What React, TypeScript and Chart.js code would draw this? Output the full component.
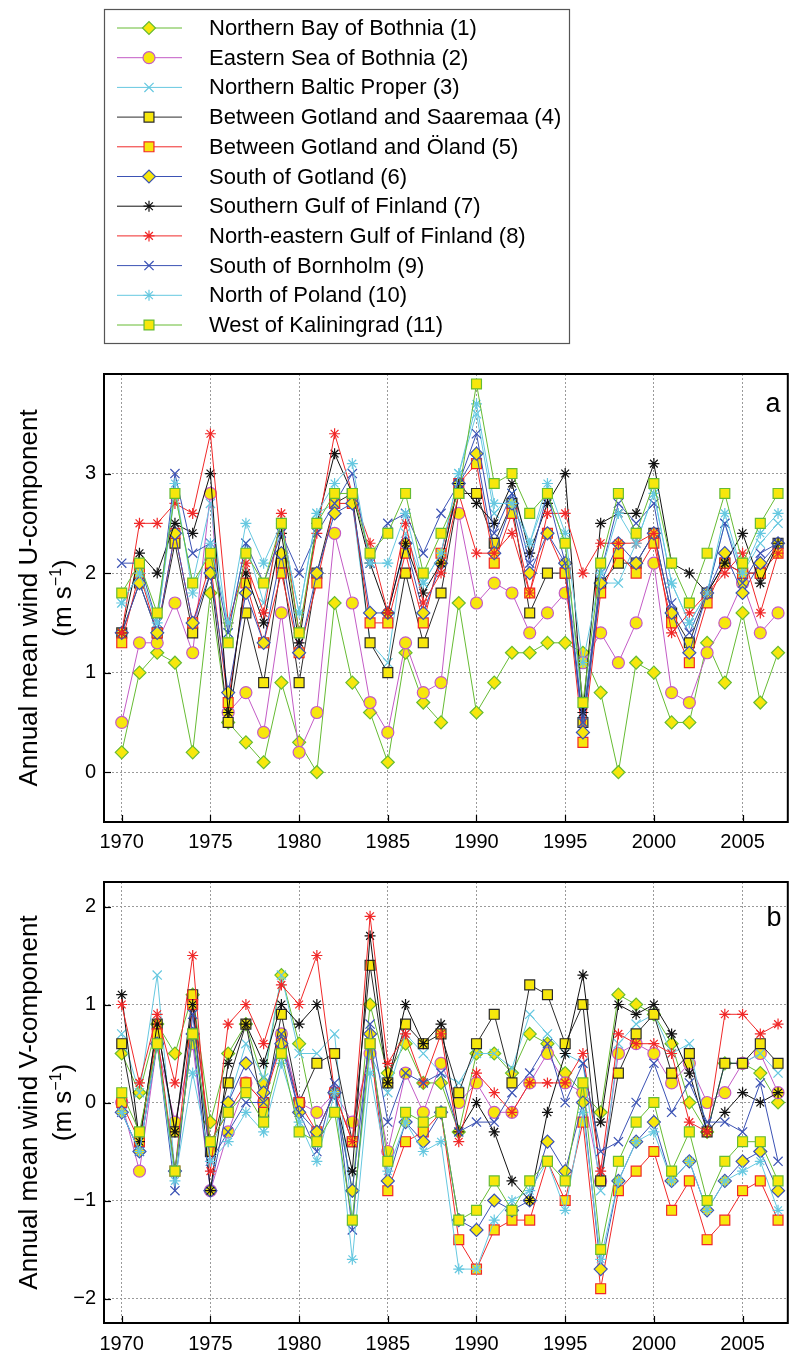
import React, { useEffect, useRef } from 'react';
import { Chart, registerables } from 'chart.js';
import { drawPoint } from 'chart.js/helpers';

Chart.register(...registerables);

const FONT = '"Liberation Sans", Arial, Helvetica, sans-serif';

const years = [1970, 1971, 1972, 1973, 1974, 1975, 1976, 1977, 1978, 1979, 1980, 1981, 1982, 1983, 1984, 1985, 1986, 1987, 1988, 1989, 1990, 1991, 1992, 1993, 1994, 1995, 1996, 1997, 1998, 1999, 2000, 2001, 2002, 2003, 2004, 2005, 2006, 2007];
const xTicks = [1970, 1975, 1980, 1985, 1990, 1995, 2000, 2005];
const uTicks = [0, 1, 2, 3];
const vTicks = [-2, -1, 0, 1, 2];

const names = [
  'Northern Bay of Bothnia (1)',
  'Eastern Sea of Bothnia (2)',
  'Northern Baltic Proper (3)',
  'Between Gotland and Saaremaa (4)',
  'Between Gotland and Öland (5)',
  'South of Gotland (6)',
  'Southern Gulf of Finland (7)',
  'North-eastern Gulf of Finland (8)',
  'South of Bornholm (9)',
  'North of Poland (10)',
  'West of Kaliningrad (11)',
];

// Panel a: annual mean wind U-component (m/s)
const u1 = [0.2, 1.0, 1.2, 1.1, 0.2, 1.8, 0.5, 0.3, 0.1, 0.9, 0.3, 0.0, 1.7, 0.9, 0.6, 0.1, 1.2, 0.7, 0.5, 1.7, 0.6, 0.9, 1.2, 1.2, 1.3, 1.3, 1.2, 0.8, 0.0, 1.1, 1.0, 0.5, 0.5, 1.3, 0.9, 1.6, 0.7, 1.2];
const u2 = [0.5, 1.3, 1.3, 1.7, 1.2, 2.8, 0.6, 0.8, 0.4, 1.6, 0.2, 0.6, 2.4, 1.7, 0.7, 0.4, 1.3, 0.8, 0.9, 2.6, 1.7, 1.9, 1.8, 1.4, 1.6, 1.8, 1.1, 1.4, 1.1, 1.5, 2.1, 0.8, 0.7, 1.2, 1.5, 1.9, 1.4, 1.6];
const u3 = [1.7, 2.0, 1.5, 2.8, 1.9, 2.7, 1.4, 2.3, 1.7, 2.5, 1.6, 2.6, 2.7, 2.7, 1.3, 1.1, 2.4, 1.9, 2.2, 3.0, 3.6, 2.6, 2.8, 2.3, 2.8, 2.3, 0.6, 1.9, 1.9, 2.3, 2.8, 1.9, 1.5, 1.8, 2.5, 2.0, 2.3, 2.5];
const u4 = [1.4, 1.9, 1.4, 2.3, 1.4, 2.0, 0.5, 1.6, 0.9, 2.1, 0.9, 2.0, 2.7, 2.8, 1.3, 1.0, 2.0, 1.3, 1.8, 2.8, 2.8, 2.3, 2.7, 1.6, 2.0, 2.0, 0.5, 1.9, 2.1, 2.1, 2.4, 1.6, 1.3, 1.8, 2.1, 2.0, 2.0, 2.3];
const u5 = [1.3, 2.0, 1.4, 2.4, 1.5, 2.1, 0.7, 1.9, 1.3, 2.0, 1.2, 1.9, 2.7, 2.7, 1.5, 1.5, 2.2, 1.5, 2.2, 2.9, 3.1, 2.1, 2.6, 1.8, 2.4, 2.0, 0.3, 1.8, 2.2, 2.0, 2.3, 1.5, 1.1, 1.7, 2.1, 2.0, 2.0, 2.2];
const u6 = [1.4, 1.9, 1.4, 2.4, 1.5, 2.0, 0.8, 1.8, 1.3, 2.2, 1.2, 2.0, 2.6, 2.7, 1.6, 1.6, 2.3, 1.6, 2.1, 2.9, 3.2, 2.2, 2.7, 2.0, 2.4, 2.1, 0.4, 1.9, 2.3, 2.1, 2.4, 1.6, 1.2, 1.8, 2.2, 1.8, 2.1, 2.3];
const u7 = [1.4, 2.2, 2.0, 2.5, 2.4, 3.0, 0.6, 2.0, 1.5, 2.4, 1.3, 2.5, 3.2, 2.8, 2.1, 1.6, 2.3, 1.8, 2.1, 2.9, 2.7, 2.5, 2.9, 2.2, 2.7, 3.0, 0.6, 2.5, 2.6, 2.6, 3.1, 2.1, 2.0, 1.8, 2.1, 2.4, 1.9, 2.3];
const u8 = [1.4, 2.5, 2.5, 2.7, 2.6, 3.4, 1.5, 2.1, 1.6, 2.6, 1.4, 2.4, 3.4, 2.8, 2.3, 1.6, 2.5, 1.7, 2.0, 2.8, 2.2, 2.2, 2.4, 1.8, 2.6, 2.6, 2.0, 2.3, 2.3, 2.3, 2.4, 1.4, 1.6, 1.8, 2.0, 2.2, 1.6, 2.2];
const u9 = [2.1, 2.1, 1.5, 3.0, 2.2, 2.3, 1.4, 2.3, 1.9, 2.4, 2.0, 2.4, 2.7, 3.0, 2.1, 2.5, 2.6, 2.2, 2.6, 2.9, 3.4, 2.4, 2.8, 2.1, 2.8, 2.1, 0.5, 2.0, 2.7, 2.5, 2.7, 1.7, 1.4, 1.8, 2.5, 1.9, 2.2, 2.3];
const u10 = [1.7, 2.0, 1.5, 2.9, 1.8, 2.3, 1.5, 2.5, 2.1, 2.5, 1.6, 2.6, 2.9, 3.1, 2.1, 2.1, 2.6, 1.9, 2.2, 3.0, 3.7, 2.7, 2.7, 2.3, 2.9, 2.4, 1.1, 2.0, 2.6, 2.3, 2.8, 1.9, 1.5, 1.8, 2.6, 2.0, 2.4, 2.6];
const u11 = [1.8, 2.1, 1.6, 2.8, 1.9, 2.2, 1.3, 2.2, 1.9, 2.5, 1.4, 2.5, 2.8, 2.8, 2.2, 2.4, 2.8, 2.0, 2.4, 2.8, 3.9, 2.9, 3.0, 2.6, 2.8, 2.3, 0.7, 2.1, 2.8, 2.4, 2.9, 2.1, 1.7, 2.2, 2.8, 2.1, 2.5, 2.8];

// Panel b: annual mean wind V-component (m/s)
const v1 = [0.5, 0.1, 0.8, 0.5, 1.1, -0.2, 0.5, 0.8, 0.2, 1.3, 0.6, -0.3, 0.1, -0.9, 1.0, 0.3, 0.6, 0.2, 0.2, -0.3, 0.5, 0.5, 0.3, 0.7, 0.6, 0.3, 0.1, -0.1, 1.1, 1.0, 0.9, 0.6, 0.0, -0.3, 0.4, 0.4, 0.3, 0.0];
const v2 = [0.0, -0.7, 0.6, -0.2, 0.6, -0.9, -0.3, 0.2, 0.0, 0.7, 0.0, -0.1, 0.1, -0.2, 0.5, -0.5, 0.3, -0.1, 0.4, 0.0, 0.2, -0.1, -0.1, 0.2, 0.5, 0.2, 0.1, -0.8, 0.5, 0.6, 0.5, 0.2, 0.4, 0.0, 0.1, 0.4, 0.5, 0.1];
const v3 = [0.7, 0.1, 1.3, -0.7, 0.7, -0.5, 0.0, 0.6, 0.25, 1.3, 0.5, 0.5, 0.7, -1.2, 0.5, 0.1, 0.7, 0.5, 0.3, 0.2, 0.5, 0.5, 0.35, 0.9, 0.7, 0.5, 0.4, -0.9, 0.6, 0.8, 0.9, 0.5, 0.6, -0.3, 0.4, 0.4, 0.5, 0.3];
const v4 = [0.6, -0.4, 0.8, -0.3, 1.1, -0.5, 0.2, 0.8, -0.1, 0.9, 0.0, 0.4, 0.5, -0.4, 1.4, 0.2, 0.8, 0.6, 0.7, 0.1, 0.6, 0.9, 0.2, 1.2, 1.1, 0.6, 1.0, -0.8, 0.3, 0.7, 0.9, 0.3, 0.5, -0.3, 0.4, 0.4, 0.6, 0.4];
const v5 = [0.0, -0.4, 0.7, -0.7, 1.0, -0.4, -0.1, 0.2, 0.0, 0.6, 0.0, -0.3, 0.1, -0.4, 0.6, -0.9, -0.4, -0.3, -0.1, -1.4, -1.7, -1.3, -1.2, -1.2, -0.6, -1.0, -0.2, -1.9, -0.9, -0.7, -0.5, -1.1, -0.8, -1.4, -1.2, -0.9, -0.8, -1.2];
const v6 = [-0.1, -0.5, 0.6, -0.7, 0.7, -0.9, 0.0, 0.4, 0.1, 0.6, -0.1, -0.3, 0.1, -0.9, 0.7, -0.8, -0.2, -0.4, -0.1, -1.2, -1.3, -1.0, -1.1, -1.0, -0.4, -0.7, 0.0, -1.7, -0.8, -0.4, -0.2, -0.8, -0.6, -1.1, -0.8, -0.6, -0.5, -0.9];
const v7 = [1.1, -0.4, 0.8, -0.3, 1.0, -0.9, 0.4, 0.8, 0.4, 1.0, 0.8, 1.0, 0.1, -0.7, 1.7, 0.2, 1.0, 0.6, 0.8, -0.3, 0.0, -0.3, -0.8, -1.0, -0.1, 0.5, 1.3, -0.2, 1.0, 0.9, 1.0, 0.7, 0.3, -0.3, -0.1, 0.1, 0.0, 0.1];
const v8 = [1.0, 0.2, 0.9, 0.2, 1.5, -0.7, 0.8, 1.0, 0.6, 1.2, 1.0, 1.5, 0.1, -0.4, 1.9, 0.4, 0.7, 0.2, 0.7, -0.4, 0.3, 0.1, -0.1, 0.2, 0.2, 0.2, 0.5, -0.7, 0.7, 0.6, 0.6, 0.5, -0.2, -0.3, 0.9, 0.9, 0.7, 0.8];
const v9 = [-0.1, -0.5, 0.6, -0.9, 0.9, -0.6, -0.3, 0.0, 0.0, 0.7, -0.1, -0.5, 0.2, -1.3, 0.8, -0.2, 0.3, 0.2, 0.3, -0.3, -0.2, -0.2, 0.1, 0.3, 0.6, 0.0, 0.4, -0.5, -0.4, 0.0, 0.4, -0.1, 0.2, -0.2, -0.2, -0.3, 0.2, -0.6];
const v10 = [-0.1, -0.5, 0.6, -0.8, 0.3, -0.6, -0.4, -0.1, -0.3, 0.4, -0.2, -0.6, 0.1, -1.6, 0.3, -0.7, -0.2, -0.5, -0.4, -1.7, -1.7, -1.2, -1.0, -0.9, -0.6, -1.1, -0.1, -1.6, -0.8, -0.4, -0.3, -0.8, -0.6, -1.1, -0.8, -0.7, -0.6, -1.1];
const v11 = [0.1, -0.3, 0.6, -0.7, 0.7, -0.4, -0.1, 0.1, -0.2, 0.5, -0.3, -0.4, -0.1, -1.2, 0.6, -0.6, -0.1, -0.2, -0.1, -1.2, -1.1, -0.8, -1.1, -0.8, -0.6, -0.8, 0.2, -1.5, -0.6, -0.2, 0.0, -0.7, -0.3, -1.0, -0.6, -0.4, -0.4, -0.8];

const uSeries = [u1, u2, u3, u4, u5, u6, u7, u8, u9, u10, u11];
const vSeries = [v1, v2, v3, v4, v5, v6, v7, v8, v9, v10, v11];

const YELLOW = '#f7e70c';
const GREEN = '#66bb33';
const MAGENTA = '#c35bc6';
const CYAN = '#66c8e0';
const DARK = '#2a2a2a';
const RED = '#f02828';
const BLUE = '#3b52b4';
const BLACK = '#111111';

type Sty = { line: string; border: string; fill: string; shape: string; r: number };
const styles: Sty[] = [
  { line: GREEN, border: GREEN, fill: YELLOW, shape: 'rectRot', r: 6.5 },
  { line: MAGENTA, border: MAGENTA, fill: YELLOW, shape: 'circle', r: 6 },
  { line: CYAN, border: CYAN, fill: CYAN, shape: 'crossRot', r: 6.5 },
  { line: DARK, border: DARK, fill: YELLOW, shape: 'rect', r: 7 },
  { line: RED, border: RED, fill: YELLOW, shape: 'rect', r: 7 },
  { line: BLUE, border: BLUE, fill: YELLOW, shape: 'rectRot', r: 6.5 },
  { line: BLACK, border: BLACK, fill: BLACK, shape: 'star', r: 5.5 },
  { line: RED, border: RED, fill: RED, shape: 'star', r: 5.5 },
  { line: BLUE, border: BLUE, fill: BLUE, shape: 'crossRot', r: 6.5 },
  { line: CYAN, border: CYAN, fill: CYAN, shape: 'star', r: 5.5 },
  { line: GREEN, border: GREEN, fill: YELLOW, shape: 'rect', r: 7 },
];

function makeDatasets(series: number[][]) {
  return series.map((arr, i) => {
    const s = styles[i];
    return {
      label: names[i],
      data: years.map((x, k) => ({ x, y: arr[k] })),
      borderColor: s.line,
      borderWidth: 1,
      backgroundColor: s.fill,
      pointStyle: s.shape,
      pointRadius: s.r,
      pointBorderWidth: 1.2,
      pointBorderColor: s.border,
      pointBackgroundColor: s.fill,
      tension: 0,
      fill: false,
      order: 10 - i,
    };
  });
}

const fmtNum = (v: number) => (v < 0 ? '\u2212' + String(Math.abs(v)) : String(v));

function overlayPlugin(cfg: { line1: string; letter: string; letterX: number; letterY: number; legend: boolean }) {
  return {
    id: 'overlay',
    afterDraw(chart: any) {
      const { ctx, chartArea: ca, scales } = chart;
      ctx.save();
      // inward ticks
      ctx.strokeStyle = '#000';
      ctx.lineWidth = 1.2;
      for (const t of scales.y.ticks) {
        const py = Math.round(scales.y.getPixelForValue(t.value)) + 0.5;
        ctx.beginPath();
        ctx.moveTo(ca.left, py);
        ctx.lineTo(ca.left + 7, py);
        ctx.stroke();
      }
      for (const t of scales.x.ticks) {
        const px = Math.round(scales.x.getPixelForValue(t.value)) + 0.5;
        ctx.beginPath();
        ctx.moveTo(px, ca.bottom);
        ctx.lineTo(px, ca.bottom - 7);
        ctx.stroke();
      }
      // frame
      ctx.lineWidth = 2;
      ctx.strokeStyle = '#000';
      ctx.strokeRect(ca.left, ca.top, ca.right - ca.left, ca.bottom - ca.top);

      // y-axis title
      const cy = (ca.top + ca.bottom) / 2;
      ctx.fillStyle = '#000';
      ctx.font = `26px ${FONT}`;
      ctx.textBaseline = 'middle';
      ctx.textAlign = 'center';
      ctx.save();
      ctx.translate(30, cy);
      ctx.rotate(-Math.PI / 2);
      ctx.fillText(cfg.line1, 0, 0);
      ctx.restore();
      // second line with superscript
      ctx.save();
      ctx.translate(62, cy);
      ctx.rotate(-Math.PI / 2);
      ctx.textAlign = 'left';
      ctx.textBaseline = 'alphabetic';
      const p1 = '(m s';
      const sup = '\u22121';
      const p3 = ')';
      ctx.font = `26px ${FONT}`;
      const w1 = ctx.measureText(p1).width;
      const w3 = ctx.measureText(p3).width;
      ctx.font = `16px ${FONT}`;
      const w2 = ctx.measureText(sup).width;
      const total = w1 + w2 + w3;
      let x0 = -total / 2;
      const base = 9;
      ctx.font = `26px ${FONT}`;
      ctx.fillText(p1, x0, base);
      x0 += w1;
      ctx.font = `16px ${FONT}`;
      ctx.fillText(sup, x0, base - 10);
      x0 += w2;
      ctx.font = `26px ${FONT}`;
      ctx.fillText(p3, x0, base);
      ctx.restore();

      // panel letter
      ctx.font = `27px ${FONT}`;
      ctx.textAlign = 'center';
      ctx.textBaseline = 'middle';
      ctx.fillText(cfg.letter, cfg.letterX, cfg.letterY);

      // legend
      if (cfg.legend) {
        const bx = 104, by = 9, bw = 465, bh = 334;
        ctx.fillStyle = '#fff';
        ctx.fillRect(bx, by, bw, bh);
        ctx.strokeStyle = '#555';
        ctx.lineWidth = 1.2;
        ctx.strokeRect(bx + 0.5, by + 0.5, bw, bh);
        const dss = chart.data.datasets;
        dss.forEach((ds: any, i: number) => {
          const y = 28 + i * 29.7;
          ctx.strokeStyle = ds.borderColor;
          ctx.lineWidth = 1;
          ctx.beginPath();
          ctx.moveTo(117, y);
          ctx.lineTo(182, y);
          ctx.stroke();
          ctx.fillStyle = ds.pointBackgroundColor;
          ctx.strokeStyle = ds.pointBorderColor;
          ctx.lineWidth = ds.pointBorderWidth;
          drawPoint(ctx, { pointStyle: ds.pointStyle, radius: ds.pointRadius, borderWidth: ds.pointBorderWidth, rotation: 0 } as any, 149, y);
          ctx.fillStyle = '#000';
          ctx.font = `22px ${FONT}`;
          ctx.textAlign = 'left';
          ctx.textBaseline = 'middle';
          ctx.fillText(ds.label, 209, y + 1);
        });
      }
      ctx.restore();
    },
  };
}

function makeConfig(opts: {
  series: number[][];
  yMin: number;
  yMax: number;
  yTicks: number[];
  padTop: number;
  xHeight: number;
  labelPad: number;
  line1: string;
  letter: string;
  letterX: number;
  letterY: number;
  legend: boolean;
}): any {
  return {
    type: 'line',
    data: { datasets: makeDatasets(opts.series) },
    options: {
      animation: false,
      responsive: false,
      maintainAspectRatio: false,
      devicePixelRatio: 1,
      layout: { padding: { top: opts.padTop, left: 0, right: 1, bottom: 0 } },
      plugins: { legend: { display: false }, tooltip: { enabled: false }, title: { display: false } },
      scales: {
        x: {
          type: 'linear',
          min: 1969,
          max: 2007.55,
          afterBuildTicks: (s: any) => {
            s.ticks = xTicks.map((v) => ({ value: v }));
          },
          afterFit: (s: any) => {
            s.height = opts.xHeight;
          },
          ticks: {
            color: '#000',
            font: { family: FONT, size: 20 },
            padding: opts.labelPad,
            maxRotation: 0,
            autoSkip: false,
            callback: (v: number) => String(v),
          },
          grid: { color: '#9a9a9a', lineWidth: 1, drawTicks: false },
          border: { display: false, dash: [2, 2] },
        },
        y: {
          type: 'linear',
          min: opts.yMin,
          max: opts.yMax,
          afterBuildTicks: (s: any) => {
            s.ticks = opts.yTicks.map((v) => ({ value: v }));
          },
          afterFit: (s: any) => {
            s.width = 104;
          },
          ticks: {
            color: '#000',
            font: { family: FONT, size: 20 },
            padding: 8,
            callback: (v: number) => fmtNum(v),
          },
          grid: { color: '#9a9a9a', lineWidth: 1, drawTicks: false },
          border: { display: false, dash: [2, 2] },
        },
      },
    },
    plugins: [overlayPlugin({ line1: opts.line1, letter: opts.letter, letterX: opts.letterX, letterY: opts.letterY, legend: opts.legend })],
  };
}

export default function App() {
  const refA = useRef<HTMLCanvasElement>(null);
  const refB = useRef<HTMLCanvasElement>(null);

  useEffect(() => {
    const chartA = new Chart(
      refA.current as HTMLCanvasElement,
      makeConfig({
        series: uSeries,
        yMin: -0.5,
        yMax: 4.0,
        yTicks: uTicks,
        padTop: 374,
        xHeight: 40,
        labelPad: 8,
        line1: 'Annual mean wind U-component',
        letter: 'a',
        letterX: 773,
        letterY: 405,
        legend: true,
      })
    );
    const chartB = new Chart(
      refB.current as HTMLCanvasElement,
      makeConfig({
        series: vSeries,
        yMin: -2.25,
        yMax: 2.25,
        yTicks: vTicks,
        padTop: 18,
        xHeight: 31,
        labelPad: 9,
        line1: 'Annual mean wind V-component',
        letter: 'b',
        letterX: 774,
        letterY: 919 - 862,
        legend: false,
      })
    );
    return () => {
      chartA.destroy();
      chartB.destroy();
    };
  }, []);

  return (
    <div style={{ position: 'absolute', left: 0, top: 0, width: 796, height: 1354, background: '#fff' }}>
      <canvas ref={refA} width={796} height={862} style={{ position: 'absolute', left: 0, top: 0, width: 796, height: 862 }} />
      <canvas ref={refB} width={796} height={492} style={{ position: 'absolute', left: 0, top: 862, width: 796, height: 492 }} />
    </div>
  );
}
